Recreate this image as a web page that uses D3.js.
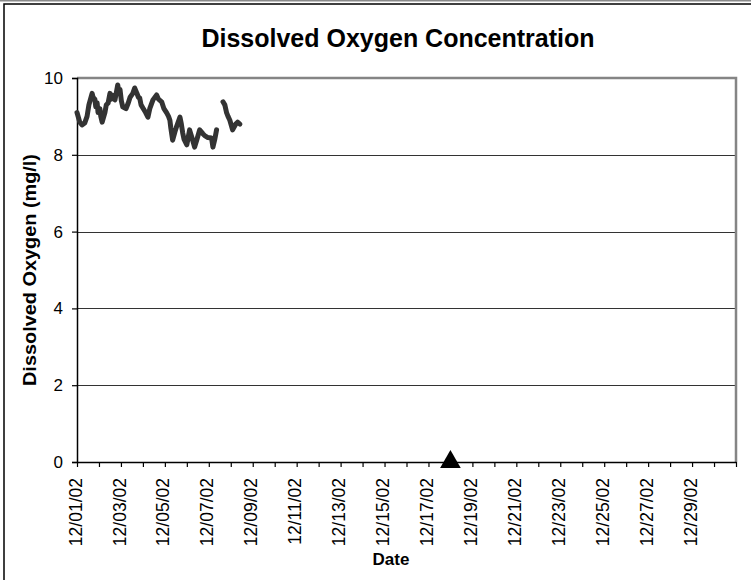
<!DOCTYPE html>
<html>
<head>
<meta charset="utf-8">
<script src="https://cdn.jsdelivr.net/npm/d3@7"></script>
<style>
  body { margin: 0; background: #fff; }
  text { font-family: "Liberation Sans", Arial, sans-serif; }
</style>
</head>
<body>
<div id="chart"></div>
<script>
// hours after 12/01/02 00:00 and the DO reading (mg/l); null = gap in record
var hours = [0, 3, 5.5, 8.5, 11, 13, 16.5, 17.5, 19.5, 20.5, 22, 23, 25, 26, 27.5, 30.5, 32, 34, 36, 37.5, 39, 41.5, 44.5, 46, 47, 48.5, 50, 53.5, 56, 58, 61, 63, 65.5, 67, 68.5, 70, 72, 75, 77.5, 79.5, 83, 87, 89, 92.5, 95, 98, 100, 101.5, 102.5, 104.5, 107, 109, 112.5, 114, 115.5, 117, 120, 123, 125.5, 128.5, 131, 134, 137.5, 139.5, 143, 147, 148.5, 150.5, 152.5,
             155,
             159.5, 161.5, 163.5, 165, 167, 170, 173.5, 175.5, 178];
var oxygen = [9.1, 8.85, 8.78, 8.83, 9.0, 9.3, 9.6, 9.5, 9.45, 9.25, 9.35, 9.1, 9.2, 9.0, 8.85, 9.1, 9.3, 9.35, 9.6, 9.45, 9.55, 9.43, 9.82, 9.6, 9.7, 9.4, 9.25, 9.2, 9.35, 9.5, 9.6, 9.74, 9.6, 9.5, 9.48, 9.3, 9.22, 9.1, 8.98, 9.2, 9.43, 9.56, 9.45, 9.38, 9.2, 9.09, 9.0, 8.9, 8.7, 8.38, 8.6, 8.75, 8.98, 8.8, 8.57, 8.4, 8.26, 8.65, 8.45, 8.2, 8.4, 8.65, 8.55, 8.5, 8.45, 8.44, 8.2, 8.4, 8.65,
              null,
              9.38, 9.3, 9.09, 9.0, 8.9, 8.65, 8.8, 8.85, 8.8];
// single triangle marker on the axis
var markerDates = ["12/18/02"];
var markerValues = [0];

var yTicks = [0, 2, 4, 6, 8, 10];
var startDate = "12/01/02", endDate = "12/31/02";

var parse = d3.timeParse("%m/%d/%y");
var fmt = d3.timeFormat("%m/%d/%y");

var W = 751, H = 580;
var margin = {top: 78, right: 15, bottom: 118, left: 77};

var svg = d3.select("#chart").append("svg")
    .attr("width", W)
    .attr("height", H);

// outer frame (only top and left visible in the shot)
svg.append("line").attr("x1", 0).attr("x2", W).attr("y1", 0.75).attr("y2", 0.75)
    .attr("stroke", "#8a8a8a").attr("stroke-width", 1.5);
svg.append("path").attr("d", "M4," + H + "V4H" + W)
    .attr("fill", "none").attr("stroke", "#000").attr("stroke-width", 1.5);

var x = d3.scaleTime()
    .domain([parse(startDate), parse(endDate)])
    .range([margin.left, W - margin.right]);
var y = d3.scaleLinear()
    .domain([0, 10])
    .range([H - margin.bottom, margin.top]);

// gridlines
svg.append("g")
    .selectAll("line")
    .data(yTicks.filter(function (d) { return d > 0 && d < 10; }))
    .enter().append("line")
    .attr("x1", margin.left).attr("x2", W - margin.right)
    .attr("y1", function (d) { return Math.round(y(d)) + 0.5; })
    .attr("y2", function (d) { return Math.round(y(d)) + 0.5; })
    .attr("stroke", "#333").attr("stroke-width", 1);

// plot area border, top and right in grey
svg.append("path")
    .attr("d", "M" + margin.left + "," + y(10) + "H" + (W - margin.right) + "V" + y(0))
    .attr("fill", "none").attr("stroke", "#858585").attr("stroke-width", 2.5);

// y axis
var yAxis = svg.append("g")
    .attr("transform", "translate(" + margin.left + ",0)")
    .call(d3.axisLeft(y).tickValues(yTicks).tickSize(5).tickPadding(9).tickFormat(d3.format("d")));
yAxis.select(".domain").attr("stroke-width", 1.5);
yAxis.selectAll(".tick line").attr("stroke-width", 1.2);
yAxis.selectAll("text").attr("font-size", 17).attr("fill", "#000");

// x axis: a tick each day, label every second day
var days = d3.timeDay.range(parse(startDate), d3.timeDay.offset(parse(endDate), 1));
var xAxis = svg.append("g")
    .attr("transform", "translate(0," + y(0) + ")")
    .call(d3.axisBottom(x).tickValues(days).tickSize(5).tickSizeOuter(0)
        .tickFormat(function (d, i) { return i % 2 === 0 && i < 30 ? fmt(d) : ""; }));
xAxis.select(".domain").attr("stroke-width", 1.5);
xAxis.selectAll(".tick line").attr("stroke-width", 1.2);
xAxis.selectAll("text")
    .attr("font-size", 17.5).attr("fill", "#000")
    .attr("text-anchor", "end")
    .attr("transform", "rotate(-90)")
    .attr("x", -16).attr("y", -2).attr("dy", "0.35em");

// DO series
var series = hours.map(function (h, i) {
    return {date: d3.timeMinute.offset(parse(startDate), Math.round(h * 60)), value: oxygen[i]};
});
var line = d3.line()
    .defined(function (d) { return d.value !== null; })
    .x(function (d) { return x(d.date); })
    .y(function (d) { return y(d.value); })
    .curve(d3.curveLinear);
svg.append("path")
    .datum(series)
    .attr("d", line)
    .attr("fill", "none")
    .attr("stroke", "#333")
    .attr("stroke-width", 5)
    .attr("stroke-linejoin", "round")
    .attr("stroke-linecap", "round");

// marker
svg.selectAll(".marker")
    .data(markerDates)
    .enter().append("path")
    .attr("class", "marker")
    .attr("d", d3.symbol().type(d3.symbolTriangle).size(185))
    .attr("transform", function (d, i) { return "translate(" + x(parse(d)) + "," + y(markerValues[i]) + ")"; })
    .attr("fill", "#000");

// titles
svg.append("text")
    .attr("x", 398).attr("y", 47)
    .attr("text-anchor", "middle")
    .attr("font-size", 25).attr("font-weight", "bold")
    .text("Dissolved Oxygen Concentration");
svg.append("text")
    .attr("x", 391).attr("y", 565)
    .attr("text-anchor", "middle")
    .attr("font-size", 17).attr("font-weight", "bold")
    .text("Date");
svg.append("text")
    .attr("transform", "translate(36," + 270 + ") rotate(-90)")
    .attr("text-anchor", "middle")
    .attr("font-size", 19).attr("font-weight", "bold")
    .attr("textLength", 232).attr("lengthAdjust", "spacingAndGlyphs")
    .text("Dissolved Oxygen (mg/l)");
</script>
</body>
</html>
